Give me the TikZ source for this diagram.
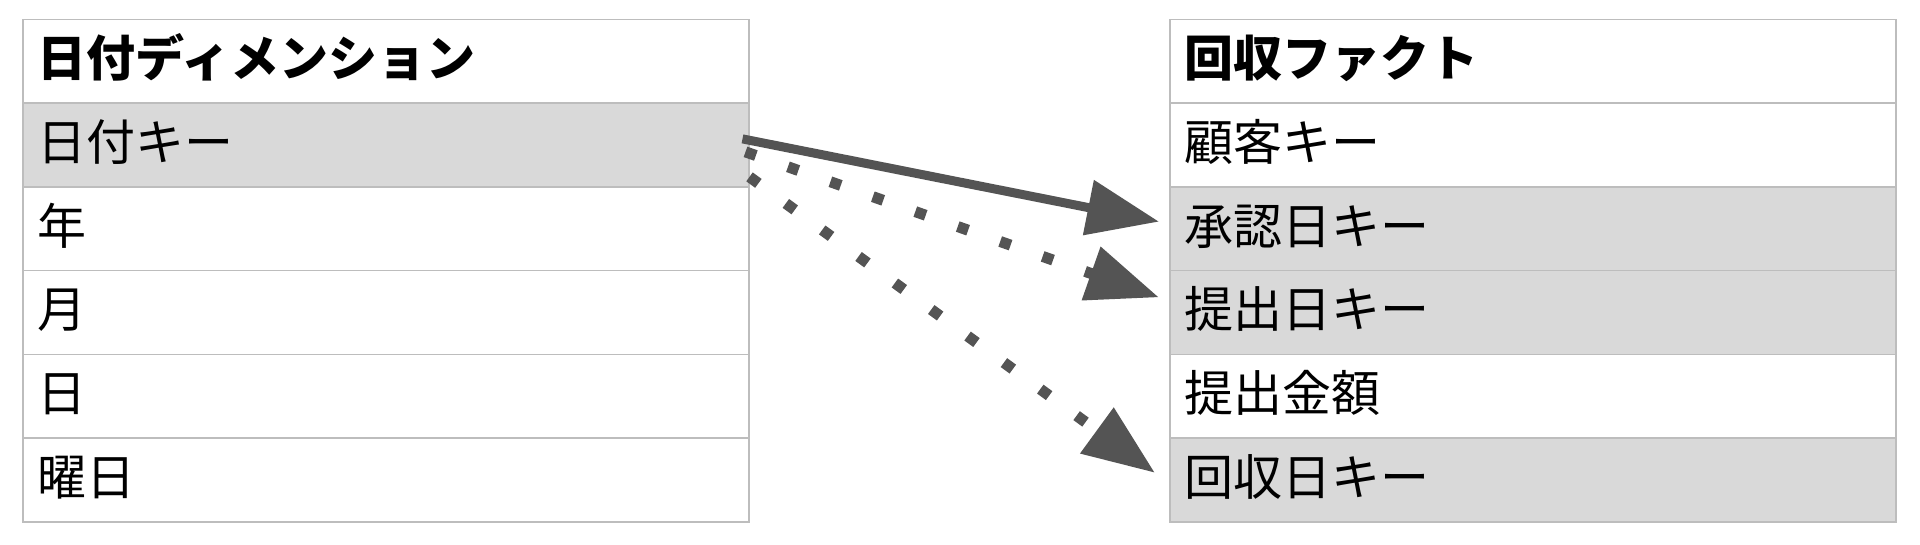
\documentclass[tikz,border=0pt]{standalone}
\usepackage{fontspec}
\setmainfont{Noto Sans CJK JP}
\usetikzlibrary{arrows.meta,calc}
\definecolor{rowgray}{HTML}{D9D9D9}
\definecolor{linegray}{HTML}{BDBDBD}
\definecolor{arrowgray}{HTML}{545454}
\begin{document}
\begin{tikzpicture}[x=1pt,y=-1pt,
  cell/.style={draw=linegray, line width=1.5pt, anchor=north west,
    minimum height=83.75pt, text width=696pt, inner xsep=15pt, inner ysep=0pt,
    align=left, font=\fontsize{49}{56}\selectfont, text height=40pt, text depth=9pt},
  hdr/.style={cell, fill=white, font=\fontsize{49}{56}\selectfont\bfseries},
  keyrow/.style={cell, fill=rowgray},
  plainrow/.style={cell, fill=white},
  solidarrow/.style={draw=arrowgray, line width=9pt, -{Triangle[length=72pt,width=54pt]}},
  dotarrow/.style={draw=arrowgray, line width=11pt, dash pattern=on 11pt off 34pt,
    -{Triangle[length=72pt,width=54pt]}}]
\useasboundingbox[fill=white] (0,0) rectangle (1920,544);
% left table
\node[hdr]      (l0) at (22,18.5)   {日付ディメンション};
\node[keyrow]   (l1) at (22,102.25) {日付キー};
\node[plainrow] (l2) at (22,186)    {年};
\node[plainrow] (l3) at (22,269.75) {月};
\node[plainrow] (l4) at (22,353.5)  {日};
\node[plainrow] (l5) at (22,437.25) {曜日};
% right table
\node[hdr]      (r0) at (1169,18.5)   {回収ファクト};
\node[plainrow] (r1) at (1169,102.25) {顧客キー};
\node[keyrow]   (r2) at (1169,186)    {承認日キー};
\node[keyrow]   (r3) at (1169,269.75) {提出日キー};
\node[plainrow] (r4) at (1169,353.5)  {提出金額};
\node[keyrow]   (r5) at (1169,437.25) {回収日キー};
% connectors
\draw[solidarrow] ($(l1.east)+(-7,-6)$) -- ($(r2.west)+(-10,-7)$);
\draw[dotarrow]   ($(l1.east)+(-4,7)$) -- ($(r3.west)+(-10,-15)$);
\draw[dotarrow]   ($(l1.east)+(0,32)$) -- ($(r5.west)+(-14,-7)$);
\end{tikzpicture}
\end{document}
